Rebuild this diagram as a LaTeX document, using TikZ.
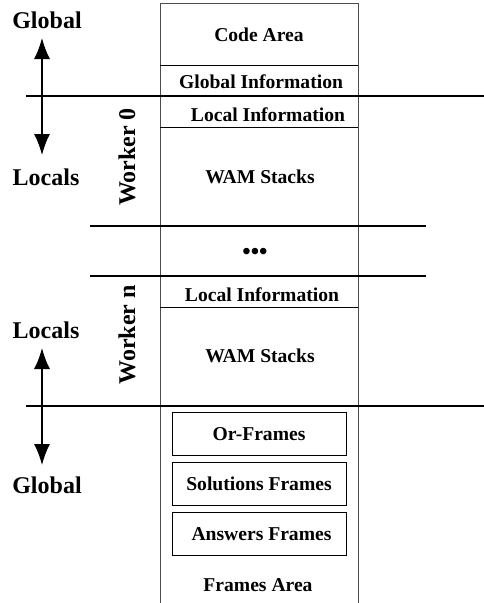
\documentclass[tikz,border=0pt]{standalone}
\usepackage{fontspec}
\setmainfont{Liberation Serif}
\usetikzlibrary{arrows.meta}
\tikzset{
    area-text/.style = {font=\bfseries\fontsize{19.6}{22}\selectfont, inner sep=0pt},
    side-label/.style = {font=\bfseries\fontsize{24}{28}\selectfont, inner sep=0pt},
    frame-box/.style = {draw, thin, rectangle, minimum width=174pt, minimum height=43pt, area-text},
    col-line/.style = {draw=black!70, line width=1pt},
    div-line/.style = {draw, line width=0.9pt},
    sep-line/.style = {draw, line width=1.6pt},
    scope-arrow/.style = {line width=1.4pt, {Latex[width=16pt,length=21pt]}-{Latex[width=16pt,length=21pt]}},
}

\begin{document}
\begin{tikzpicture}[x=1pt,y=-1pt]
\useasboundingbox (0,0) rectangle (484,603);
% memory column
\draw[col-line] (160,603) -- (160,3) -- (358,3) -- (358,603);
\draw[div-line] (160,65) -- (358,65);
\draw[div-line] (160,127) -- (358,127);
\draw[div-line] (160,307) -- (358,307);
% global / local boundaries
\draw[sep-line] (26,96) -- (484,96);
\draw[sep-line] (26,406) -- (484,406);
\draw[sep-line] (90,226) -- (426,226);
\draw[sep-line] (90,276) -- (426,276);

\node[area-text] (code) at (259,35) {Code Area};
\node[area-text] (ginfo) at (261,82) {Global Information};
\node[area-text] (linfo0) at (268,115) {Local Information};
\node[area-text] (wam0) at (260,177) {WAM Stacks};
\node[area-text, font=\bfseries\fontsize{24}{28}\selectfont] (dots) at (255,254) {\textbullet\textbullet\textbullet};
\node[area-text] (linfon) at (262,295) {Local Information};
\node[area-text] (wamn) at (260,356) {WAM Stacks};
\node[frame-box] (orf) at (259,434) {Or-Frames};
\node[frame-box] (solf) at (259,484) {Solutions Frames};
\node[frame-box] (ansf) at (259,534) {\hspace{5pt}Answers Frames};
\node[area-text] (farea) at (258,585) {Frames Area};

\node[side-label, rotate=90] (w0) at (127,157) {Worker 0};
\node[side-label, rotate=90] (wn) at (127,335) {Worker n};

\node[side-label] (gtop) at (47,20) {Global};
\node[side-label] (ltop) at (46,177) {Locals};
\node[side-label] (lbot) at (46,330) {Locals};
\node[side-label] (gbot) at (47,485) {Global};

\coordinate (a1) at (42,38);
\coordinate (a2) at (42,155);
\coordinate (a3) at (42,348);
\coordinate (a4) at (42,465);
\draw[scope-arrow] (a1) -- (a2);
\draw[scope-arrow] (a3) -- (a4);
\end{tikzpicture}
\end{document}
